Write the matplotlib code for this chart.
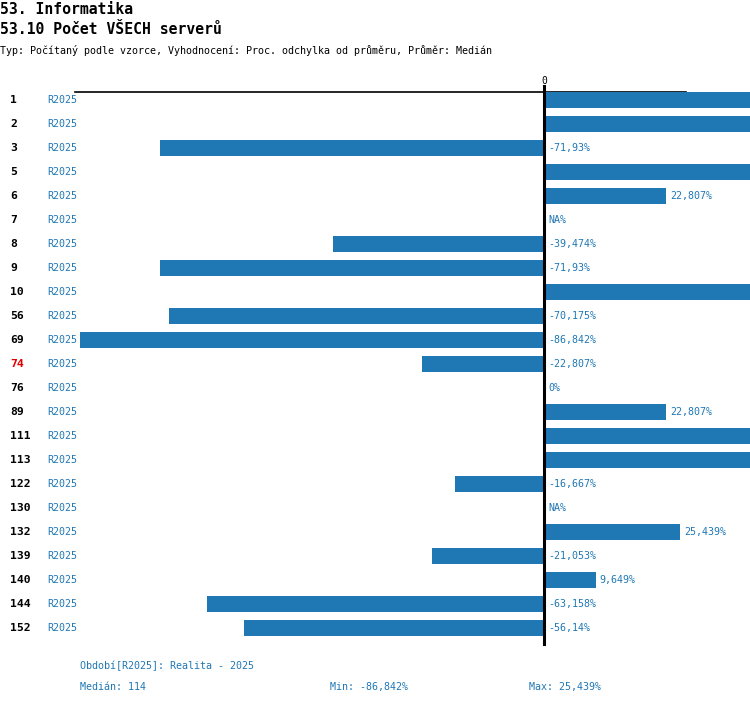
import numpy as np
import matplotlib
matplotlib.use("Agg")
import matplotlib.pyplot as plt

# ---- data ----
row_ids = ["1", "2", "3", "5", "6", "7", "8", "9", "10", "56", "69", "74", "76",
           "89", "111", "113", "122", "130", "132", "139", "140", "144", "152"]
period = "R2025"
values = [150.0, 150.0, -71.93, 150.0, 22.807, np.nan, -39.474, -71.93, 150.0,
          -70.175, -86.842, -22.807, 0.0, 22.807, 150.0, 150.0, -16.667, np.nan,
          25.439, -21.053, 9.649, -63.158, -56.14]
value_labels = ["", "", "-71,93%", "", "22,807%", "NA%", "-39,474%", "-71,93%", "",
                "-70,175%", "-86,842%", "-22,807%", "0%", "22,807%", "", "",
                "-16,667%", "NA%", "25,439%", "-21,053%", "9,649%", "-63,158%", "-56,14%"]
highlight = "74"
title1 = "53. Informatika"
title2 = "53.10 Počet VŠECH serverů"
subtitle = "Typ: Počítaný podle vzorce, Vyhodnocení: Proc. odchylka od průměru, Průměr: Medián"
footer_period = "Období[R2025]: Realita - 2025"
footer_median = "Medián: 114"
footer_min = "Min: -86,842%"
footer_max = "Max: 25,439%"

W, H = 750, 704
BLUE = "#1f77b4"
MONO = "DejaVu Sans Mono"

fig = plt.figure(figsize=(W / 100, H / 100), dpi=100)
ax = fig.add_axes([0, 0, 1, 1])
ax.set_axis_off()

k = 464 / 86.842          # px per percent
x0 = 544                  # zero pixel
ax.set_xlim(-x0 / k, (W - x0) / k)
row0, step = 100, 24
ax.set_ylim((H - row0) / step, -row0 / step)

n = len(row_ids)
ypos = np.arange(n)
vals = np.array(values, dtype=float)
bar_vals = np.nan_to_num(vals, nan=0.0)
ax.barh(ypos, bar_vals, height=16 / 24, color=BLUE, zorder=2)

# axis lines
ax.plot([0, 0], [(86 - row0) / step, (644 - row0) / step], color="black", lw=2.2, zorder=3)
ax.plot([(75 - x0) / k, (686 - x0) / k], [(92 - row0) / step] * 2, color="black", lw=1.2, zorder=1)
ax.text(0, (81 - row0) / step, "0", ha="center", va="center", fontsize=7, family=MONO, color="black")

ytr = ax.get_yaxis_transform()
for i, (rid, v, lab) in enumerate(zip(row_ids, vals, value_labels)):
    col = "#e00000" if rid == highlight else "black"
    ax.text(10 / W, i, rid, transform=ytr, ha="left", va="center", fontsize=8.2,
            fontweight="bold", family=MONO, color=col)
    ax.text(47 / W, i, period, transform=ytr, ha="left", va="center", fontsize=7.2,
            family=MONO, color=BLUE)
    if lab:
        xl = (v if (not np.isnan(v) and v > 0) else 0) + 4 / k
        ax.text(xl, i, lab, ha="left", va="center", fontsize=7.2, family=MONO, color=BLUE)

def ftext(x, y, s, **kw):
    fig.text(x / W, 1 - y / H, s, ha="left", va="center", family=MONO, **kw)

ftext(0, 9, title1, fontsize=10.6, fontweight="bold", color="black")
ftext(0, 30, title2, fontsize=10.6, fontweight="bold", color="black")
ftext(0, 51, subtitle, fontsize=7.2, color="black")
ftext(80, 666, footer_period, fontsize=7.2, color=BLUE)
ftext(80, 687, footer_median, fontsize=7.2, color=BLUE)
ftext(330, 687, footer_min, fontsize=7.2, color=BLUE)
ftext(529, 687, footer_max, fontsize=7.2, color=BLUE)

fig.savefig("out.png", dpi=100)
